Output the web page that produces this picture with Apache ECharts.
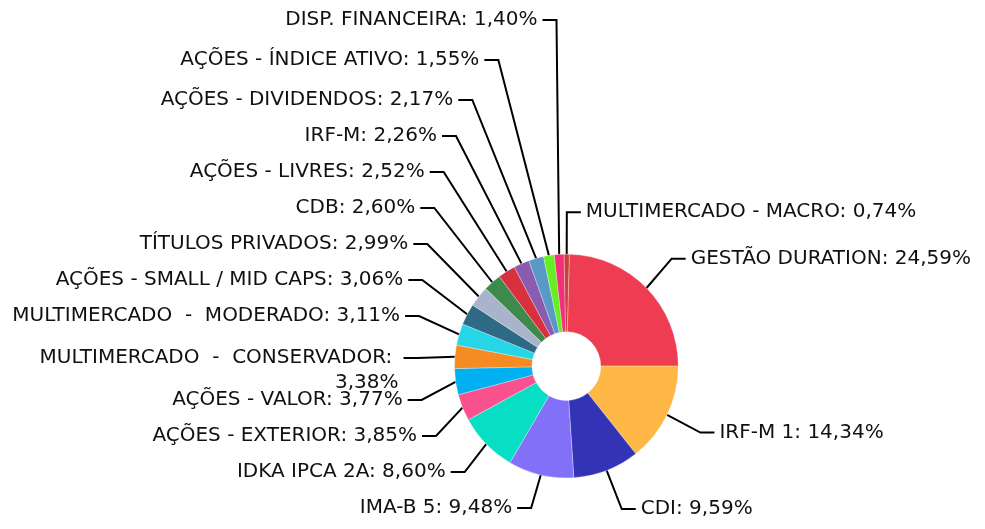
<!DOCTYPE html>
<html>
<head>
<meta charset="utf-8">
<script src="https://cdn.jsdelivr.net/npm/echarts@6/dist/echarts.min.js"></script>
<style>
  html, body { margin: 0; padding: 0; background: #fff; }
  #main { width: 985px; height: 529px; }
</style>
</head>
<body>
<div id="main"></div>
<script>
// categorias e percentuais (sentido horario a partir do topo)
const categorias = [
  'GESTÃO DURATION', 'IRF-M 1', 'CDI', 'IMA-B 5', 'IDKA IPCA 2A',
  'AÇÕES - EXTERIOR', 'AÇÕES - VALOR', 'MULTIMERCADO  -  CONSERVADOR',
  'MULTIMERCADO  -  MODERADO', 'AÇÕES - SMALL / MID CAPS', 'TÍTULOS PRIVADOS',
  'CDB', 'AÇÕES - LIVRES', 'IRF-M', 'AÇÕES - DIVIDENDOS', 'AÇÕES - ÍNDICE ATIVO',
  'DISP. FINANCEIRA', 'MULTIMERCADO - MACRO'
];
const valores = [
  24.59, 14.34, 9.59, 9.48, 8.60,
  3.85, 3.77, 3.38,
  3.11, 3.06, 2.99,
  2.60, 2.52, 2.26, 2.17, 1.55,
  1.40, 0.74
];
const cores = [
  '#ee3d52', '#ffb845', '#3333b5', '#8370f8', '#08dec4',
  '#f8518d', '#00b0f0', '#f58b22', '#26d6e6', '#2e6a86',
  '#a9b4cc', '#3e8a4c', '#d9303d', '#8a5cb0', '#5a98c8',
  '#66ee22', '#f2307a', '#c8403c'
];

// rotulo longo que quebra em duas linhas
const rotuloQuebrado = 'MULTIMERCADO  -  CONSERVADOR';
const idxQuebrado = categorias.indexOf(rotuloQuebrado);

const myChart = echarts.init(document.getElementById('main'));

const dados = categorias.map((nome, i) => {
  const item = { name: nome, value: valores[i] };
  if (i === idxQuebrado) {
    item.label = { width: 368, overflow: 'break', padding: 0 };
  }
  return item;
});

const option = {
  backgroundColor: '#fff',
  color: cores,
  animation: false,
  series: [{
    type: 'pie',
    center: ['57.5%', '69.2%'],
    radius: ['13%', '42.3%'],
    startAngle: 88.5,
    clockwise: true,
    avoidLabelOverlap: true,
    data: dados,
    itemStyle: {
      borderColor: '#fff',
      borderWidth: 0.3
    },
    labelLayout: function (params) {
      // primeira linha do rotulo quebrado fica na altura da linha guia
      if (params.dataIndex === idxQuebrado) {
        return { hideOverlap: false, dy: 12 };
      }
      return { hideOverlap: false };
    },
    label: {
      show: true,
      position: 'outside',
      fontFamily: 'DejaVu Sans',
      fontSize: 20,
      lineHeight: 25,
      padding: [7, 0, 6, 0],
      color: '#111',
      overflow: 'none',
      bleedMargin: 0,
      formatter: function (p) {
        return p.name + ': ' + p.value.toFixed(2).replace('.', ',') + '%';
      }
    },
    labelLine: {
      show: true,
      length: 42,
      length2: 14,
      lineStyle: { color: '#000', width: 2 }
    }
  }]
};

myChart.setOption(option);
</script>
</body>
</html>
